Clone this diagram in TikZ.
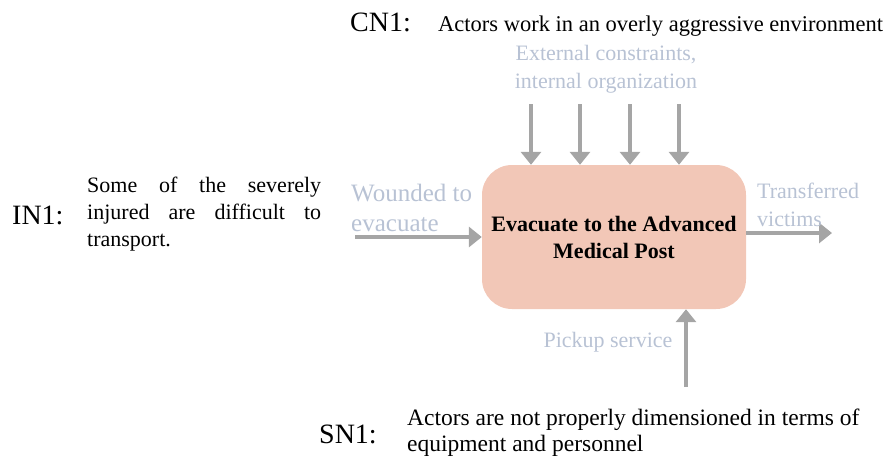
\documentclass[tikz,border=0pt]{standalone}
\usepackage{fontspec}
\setmainfont{Liberation Serif}
\usetikzlibrary{arrows.meta,positioning}
\definecolor{boxpink}{RGB}{242,199,183}
\definecolor{arrowgray}{RGB}{165,165,165}
\definecolor{softblue}{RGB}{184,194,212}
\tikzset{
    grayarrow/.style={
        line width=4pt,
        arrowgray,
        -{Triangle[length=13pt, width=20pt]}
    },
    % the activity box
    procbox/.style={
        fill=boxpink,
        rounded corners=30pt,
        minimum width=264pt,
        minimum height=144pt,
        align=center,
        font=\fontsize{22}{27}\selectfont\bfseries
    },
    softlabel/.style={softblue, inner sep=0pt, font=\fontsize{22}{28}\selectfont},
    notetag/.style={inner sep=0pt, font=\fontsize{28}{32}\selectfont},
    notetext/.style={inner sep=0pt, font=\fontsize{22}{27}\selectfont}
}

\begin{document}
\begin{tikzpicture}[x=1pt, y=-1pt]
	\useasboundingbox (0,0) rectangle (885,456);

	\node [procbox] (proc) at (614,237) {Evacuate to the Advanced\\Medical Post};

	% controls from above
	\foreach \x [count=\i] in {531,580,630,679}{
		\coordinate (ctrl\i) at (\x,104);
		\draw[grayarrow] (ctrl\i) -- (ctrl\i |- proc.north);
	}
	\coordinate (inbeg) at (355,237);
	\draw[grayarrow] (inbeg) -- (inbeg -| proc.west);
	\coordinate (outend) at (832,233);
	\draw[grayarrow] (outend -| proc.east) -- (outend);
	\coordinate (mechbeg) at (686,387);
	\draw[grayarrow] (mechbeg) -- (mechbeg |- proc.south);

	\node [softlabel, align=center] (ctrllab) at (606,69) {External constraints,\\internal organization};
	\node [softlabel, align=left, anchor=west, font=\fontsize{25}{30}\selectfont] (inlab) at (351,208) {Wounded to\\evacuate};
	\node [softlabel, align=left, anchor=west] (outlab) at (757,205) {Transferred\\victims};
	\node [softlabel] (mechlab) at (608,342) {Pickup service};

	\node [notetag, anchor=base west] (cntag) at (350,31) {CN1:};
	\node [notetext, anchor=base west, font=\fontsize{22.5}{27}\selectfont] (cntext) at (438,31) {Actors work in an overly aggressive environment};

	\node [notetag, anchor=west] (intag) at (12,215) {IN1:};
	\node [notetext, anchor=west, align=left] (intext) at (87,214)
		{\makebox[234pt][s]{Some of the severely}\\
		 \makebox[234pt][s]{injured are difficult to}\\
		 transport.};

	\node [notetag, anchor=west] (sntag) at (319,434) {SN1:};
	\node [notetext, anchor=west, align=left, font=\fontsize{23.5}{26}\selectfont] (sntext) at (407,433)
		{Actors are not properly dimensioned in terms of\\equipment and personnel};
\end{tikzpicture}
\end{document}
